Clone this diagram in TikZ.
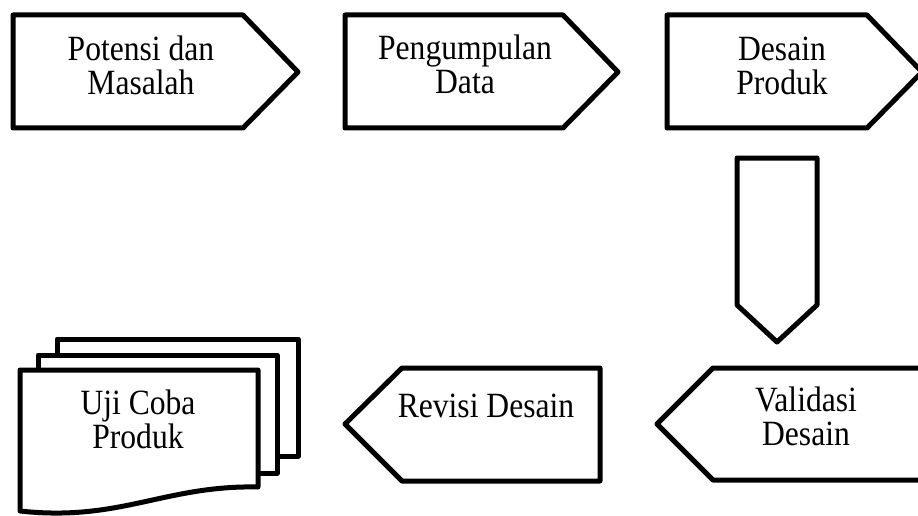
\documentclass[tikz,border=0pt]{standalone}
\usepackage{fontspec}
\setmainfont{Liberation Serif}
\newfontfamily\tallfont{Liberation Serif}[FakeStretch=0.89]
\begin{document}
\begin{tikzpicture}[x=1pt,y=-1pt,
  shp/.style={draw=black, line width=5pt, line join=round, fill=white},
  lbl/.style={font=\tallfont\fontsize{35.5}{34}\selectfont, align=center, inner sep=0pt, anchor=base}]
\useasboundingbox (0,0) rectangle (918,516);
\clip (0,0) rectangle (918,516);
% top row
\draw[shp] (13,15) -- (243,15) -- (298,72) -- (243,128) -- (13,128) -- cycle;
\draw[shp] (345,15) -- (563,15) -- (618,72) -- (563,128) -- (345,128) -- cycle;
\draw[shp] (667,15) -- (867,15) -- (922,72) -- (867,128) -- (667,128) -- cycle;
% down arrow
\draw[shp] (737,158) -- (817,158) -- (817,305) -- (777,342) -- (737,305) -- cycle;
% bottom row
\draw[shp] (713,368) -- (940,368) -- (940,480) -- (713,480) -- (657,424) -- cycle;
\draw[shp] (402,368) -- (600,368) -- (600,481) -- (402,481) -- (345,424) -- cycle;
% multi document
\draw[shp] (57,339) rectangle (298,456);
\draw[shp] (38,355) rectangle (277,473);
\draw[shp] (20,370) -- (258,370) -- (258,487) .. controls (165,485) and (120,522) .. (20,511) -- cycle;
% labels
\node[lbl] (potensi) at (141,95) {Potensi dan\\Masalah};
\node[lbl] (pengumpulan) at (465,94) {Pengumpulan\\Data};
\node[lbl] (desain) at (782,95) {Desain\\Produk};
\node[lbl] (validasi) at (806,445) {Validasi\\Desain};
\node[lbl] (revisi) at (486,417) {Revisi Desain};
\node[lbl] (ujicoba) at (138,448) {Uji Coba\\Produk};
\end{tikzpicture}
\end{document}
